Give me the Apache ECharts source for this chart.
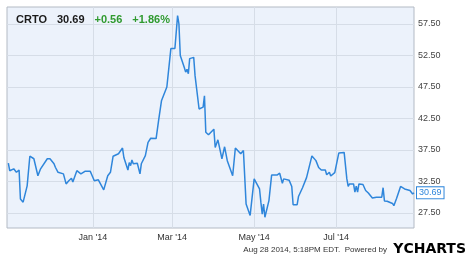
<!DOCTYPE html>
<html>
<head>
<meta charset="utf-8">
<script src="https://cdn.jsdelivr.net/npm/echarts@6/dist/echarts.min.js"></script>
<style>
  html, body { margin: 0; padding: 0; background: #fff; }
  #chart { width: 474px; height: 270px; }
</style>
</head>
<body>
<div id="chart"></div>
<script>
const ticker = 'CRTO'
const lastPrice = '30.69'
const change = '+0.56'
const changePct = '+1.86%'
const stamp = 'Aug 28 2014, 5:18PM EDT.  Powered by'

const dates = [
  '2013-10-30', '2013-10-31', '2013-11-03', '2013-11-05', '2013-11-07', '2013-11-08', '2013-11-10',
  '2013-11-13', '2013-11-15', '2013-11-18', '2013-11-21', '2013-11-23', '2013-11-28', '2013-11-30',
  '2013-12-03', '2013-12-04', '2013-12-05', '2013-12-06', '2013-12-10', '2013-12-12', '2013-12-14',
  '2013-12-16', '2013-12-17', '2013-12-20', '2013-12-23', '2013-12-26', '2013-12-30', '2013-12-31',
  '2014-01-02', '2014-01-05', '2014-01-09', '2014-01-12', '2014-01-14', '2014-01-16', '2014-01-20',
  '2014-01-23', '2014-01-24', '2014-01-26', '2014-01-27', '2014-01-28', '2014-01-29', '2014-01-30',
  '2014-01-31', '2014-02-03', '2014-02-05', '2014-02-06', '2014-02-09', '2014-02-11', '2014-02-13',
  '2014-02-17', '2014-02-19', '2014-02-21', '2014-02-25', '2014-02-28', '2014-03-03', '2014-03-05',
  '2014-03-06', '2014-03-07', '2014-03-10', '2014-03-11', '2014-03-12', '2014-03-13', '2014-03-14',
  '2014-03-17', '2014-03-18', '2014-03-21', '2014-03-24', '2014-03-25', '2014-03-26', '2014-03-28',
  '2014-04-01', '2014-04-02', '2014-04-04', '2014-04-07', '2014-04-09', '2014-04-11', '2014-04-15',
  '2014-04-17', '2014-04-21', '2014-04-23', '2014-04-25', '2014-04-28', '2014-05-01', '2014-05-05',
  '2014-05-06', '2014-05-07', '2014-05-08', '2014-05-09', '2014-05-12', '2014-05-14', '2014-05-18',
  '2014-05-20', '2014-05-22', '2014-05-23', '2014-05-27', '2014-05-29', '2014-05-30', '2014-06-02',
  '2014-06-03', '2014-06-04', '2014-06-06', '2014-06-09', '2014-06-13', '2014-06-16', '2014-06-18',
  '2014-06-20', '2014-06-23', '2014-06-24', '2014-06-26', '2014-06-27', '2014-06-30', '2014-07-03',
  '2014-07-07', '2014-07-09', '2014-07-10', '2014-07-11', '2014-07-14', '2014-07-15', '2014-07-16',
  '2014-07-17', '2014-07-18', '2014-07-21', '2014-07-22', '2014-07-23', '2014-07-25', '2014-07-28',
  '2014-07-29', '2014-07-31', '2014-08-04', '2014-08-05', '2014-08-06', '2014-08-08', '2014-08-12',
  '2014-08-13', '2014-08-15', '2014-08-18', '2014-08-19', '2014-08-21', '2014-08-25', '2014-08-27',
  '2014-08-28'
]
const prices = [
  35.4, 34.2, 34.5, 33.95, 34.3, 29.7, 29.2,
  31.8, 36.5, 36.1, 33.4, 34.5, 36.1, 36.1,
  35.3, 34.75, 35.0, 33.95, 33.7, 32.1, 32.6,
  33.0, 32.4, 34.2, 33.7, 34.1, 34.1, 33.6,
  32.6, 32.75, 31.15, 33.4, 33.95, 36.5, 36.9,
  37.8, 36.3, 35.0, 34.3, 35.5, 35.0, 35.9,
  35.3, 35.4, 33.7, 35.3, 36.6, 38.7, 39.35,
  39.3, 42.4, 45.3, 47.5, 53.6, 53.6, 58.85,
  57.5, 52.5, 50.6, 49.85, 50.3, 49.6, 52.0,
  52.2, 49.3, 44.0, 44.3, 46.1, 40.3, 39.9,
  40.8, 37.9, 39.1, 36.1, 38.0, 35.8, 33.4,
  37.8, 36.9, 37.4, 28.9, 27.1, 32.9, 31.3,
  29.2, 27.3, 28.9, 26.8, 29.45, 33.5, 33.5,
  33.8, 32.2, 32.9, 32.7, 31.7, 28.8, 28.8,
  30.1, 30.1, 31.5, 33.1, 36.55, 35.8, 34.7,
  34.3, 34.3, 33.55, 33.95, 33.35, 33.9, 37.0,
  37.1, 32.9, 31.7, 32.1, 32.1, 30.8, 31.75,
  30.8, 32.1, 32.0, 32.2, 31.05, 30.65, 29.85,
  30.1, 30.0, 30.0, 31.5, 29.4, 29.35, 29.0,
  28.65, 29.8, 31.7, 31.5, 31.3, 31.05, 30.5,
  30.69
]

const xTicks = ['2014-01-01', '2014-03-01', '2014-05-01', '2014-07-01']
const xTickLabels = ["Jan '14", "Mar '14", "May '14", "Jul '14"]
const yTicks = [27.5, 32.5, 37.5, 42.5, 47.5, 52.5, 57.5]

function ts(s) {
  const [y, m, d] = s.split('-').map(Number)
  return new Date(y, m - 1, d).getTime()
}

const xTickTs = xTicks.map(ts)
const lineColor = '#2f86db'
const font = 'Liberation Sans, Arial, sans-serif'

const chart = echarts.init(document.getElementById('chart'), null, { renderer: 'canvas' })
chart.setOption({
  animation: false,
  backgroundColor: '#fff',
  textStyle: { fontFamily: font },
  title: {
    left: 16,
    top: 11,
    padding: 0,
    text: `{k|${ticker}}  {k|${lastPrice}}  {g|${change}}  {g|${changePct}}`,
    textStyle: {
      rich: {
        k: { fontSize: 11, fontWeight: 'bold', color: '#1b1b1b', fontFamily: font },
        g: { fontSize: 11, fontWeight: 'bold', color: '#2f9a2f', fontFamily: font },
      },
    },
  },
  graphic: [
    {
      type: 'text',
      right: 87,
      top: 246,
      style: { text: stamp, fontSize: 8, fill: '#333', fontFamily: font },
    },
    {
      type: 'text',
      right: 8,
      top: 242,
      style: {
        text: '{y|Y}{c|CHARTS}',
        rich: {
          y: { fontSize: 14, fontWeight: 'bold', color: '#4b7fd8', fontFamily: 'DejaVu Sans' },
          c: { fontSize: 14, fontWeight: 'bold', color: '#22304f', fontFamily: 'DejaVu Sans' },
        },
      },
    },
  ],
  grid: {
    left: 7,
    right: 60,
    top: 7,
    bottom: 42,
    show: true,
    backgroundColor: '#ecf2fb',
    borderColor: '#b3bac4',
    borderWidth: 1,
  },
  xAxis: {
    type: 'value',
    min: ts('2013-10-29'),
    max: ts('2014-08-28'),
    axisLine: { show: false },
    axisTick: { show: false, customValues: xTickTs },
    splitLine: { show: true, lineStyle: { color: '#d6dde7', width: 1 } },
    axisLabel: {
      customValues: xTickTs,
      fontSize: 9,
      color: '#333',
      margin: 5,
      formatter: (v) => xTickLabels[xTickTs.indexOf(v)] ?? '',
    },
  },
  yAxis: {
    type: 'value',
    position: 'right',
    min: 25.1,
    max: 60.2,
    axisLine: { show: false },
    axisTick: { show: false, customValues: yTicks },
    splitLine: { show: true, lineStyle: { color: '#d6dde7', width: 1 } },
    axisLabel: {
      customValues: yTicks,
      fontSize: 9,
      color: '#444',
      margin: 4,
      formatter: (v) => v.toFixed(2),
    },
  },
  series: [
    {
      type: 'line',
      data: dates.map((d, i) => [ts(d), prices[i]]),
      showSymbol: false,
      lineStyle: { color: lineColor, width: 1.5 },
      itemStyle: { color: lineColor },
      endLabel: {
        show: true,
        formatter: (p) => p.value[1].toFixed(2),
        fontSize: 9,
        color: lineColor,
        backgroundColor: '#fff',
        borderColor: lineColor,
        borderWidth: 1,
        padding: [1, 2],
        distance: 3,
      },
    },
  ],
})
</script>
</body>
</html>
